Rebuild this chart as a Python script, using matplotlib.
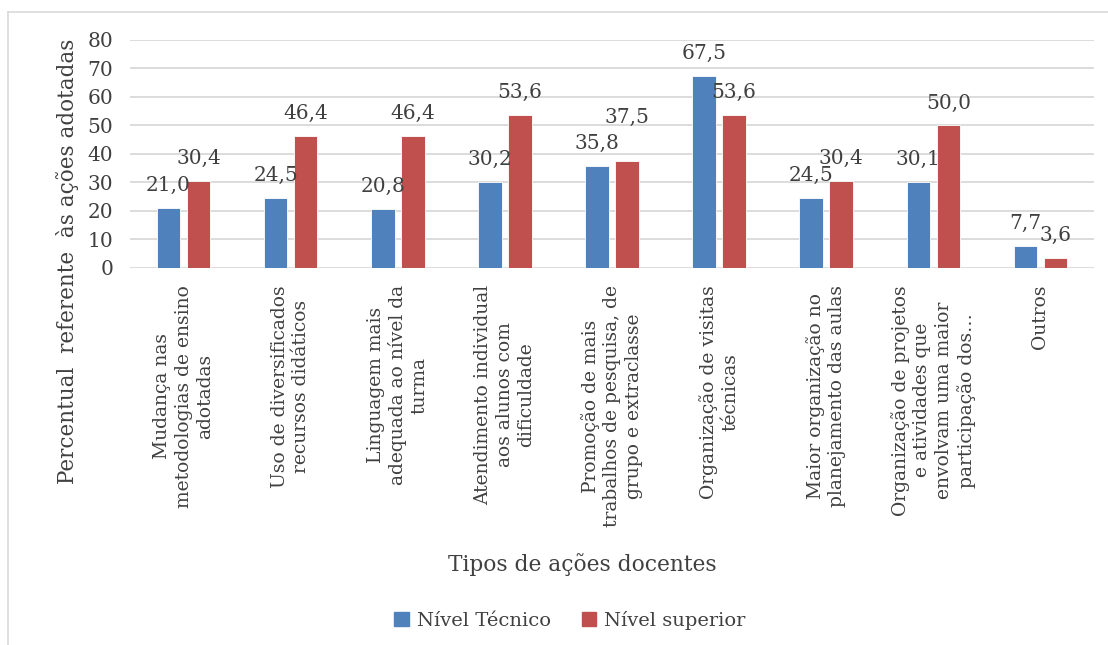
import matplotlib
matplotlib.use("Agg")
import matplotlib.pyplot as plt
import numpy as np
from matplotlib.lines import Line2D
from matplotlib.patches import Patch

categorias = [
    "Mudança nas\nmetodologias de ensino\nadotadas",
    "Uso de diversificados\nrecursos didáticos",
    "Linguagem mais\nadequada ao nível da\nturma",
    "Atendimento individual\naos alunos com\ndificuldade",
    "Promoção de mais\ntrabalhos de pesquisa, de\ngrupo e extraclasse",
    "Organização de visitas\ntécnicas",
    "Maior organização no\nplanejamento das aulas",
    "Organização de projetos\ne atividades que\nenvolvam uma maior\nparticipação dos…",
    "Outros",
]
nivel_tecnico = [21.0, 24.5, 20.8, 30.2, 35.8, 67.5, 24.5, 30.1, 7.7]
nivel_superior = [30.4, 46.4, 46.4, 53.6, 37.5, 53.6, 30.4, 50.0, 3.6]
y_ticks = [0, 10, 20, 30, 40, 50, 60, 70, 80]

AZUL = "#4F81BD"
VERMELHO = "#C0504D"
TEXTO = "#404040"
GRADE = "#D9D9D9"

plt.rcParams["font.family"] = ["DejaVu Serif"]

W, H = 1108, 645
fig = plt.figure(figsize=(W / 100, H / 100), dpi=100)

# moldura do gráfico (bordas esquerda e superior)
fig.add_artist(Line2D([8 / W, 8 / W], [0, 1 - 12 / H], transform=fig.transFigure,
                      color=GRADE, linewidth=1.2))
fig.add_artist(Line2D([8 / W, 1], [1 - 12 / H, 1 - 12 / H], transform=fig.transFigure,
                      color=GRADE, linewidth=1.2))

ax = fig.add_axes([130 / W, 1 - 268 / H, (1094 - 130) / W, (268 - 40) / H])
x = np.arange(len(categorias))
largura = 0.22
desloc = 0.14
b1 = ax.bar(x - desloc, nivel_tecnico, largura, color=AZUL, edgecolor="white",
            linewidth=0.6, zorder=3, label="Nível Técnico")
b2 = ax.bar(x + desloc, nivel_superior, largura, color=VERMELHO, edgecolor="white",
            linewidth=0.6, zorder=3, label="Nível superior")

ax.set_xlim(-0.5, len(categorias) - 0.5)
ax.set_ylim(0, 80)
ax.set_yticks(y_ticks)
ax.yaxis.grid(True, color=GRADE, linewidth=1.3, zorder=0)
ax.set_axisbelow(True)
for s in ax.spines.values():
    s.set_visible(False)
ax.tick_params(axis="y", length=0, pad=12, labelsize=14.5, labelcolor=TEXTO)
ax.set_xticks([])

fmt = lambda v: f"{v:.1f}".replace(".", ",")
# rótulo da série superior na categoria 4 sobe para não colidir com o vizinho
elevar = {(1, 4): 21}
for s, (barras, vals) in enumerate(((b1, nivel_tecnico), (b2, nivel_superior))):
    for i, (b, v) in enumerate(zip(barras, vals)):
        ax.annotate(fmt(v), (b.get_x() + b.get_width() / 2, v),
                    xytext=(0, 17 + elevar.get((s, i), 0)), textcoords="offset pixels",
                    ha="center", va="baseline", fontsize=14.5, color=TEXTO, zorder=4)

for i, rot in enumerate(categorias):
    ax.text(i, -17 / 228, rot, transform=ax.get_xaxis_transform(),
            rotation=90, ha="center", va="top", multialignment="center",
            fontsize=13.5, color=TEXTO, linespacing=1.25)

fig.text(68 / W, 1 - 261 / H, "Percentual  referente  às ações adotadas",
         rotation=90, ha="center", va="center", fontsize=15.5, color=TEXTO)
fig.text(582 / W, 1 - 565 / H, "Tipos de ações docentes",
         ha="center", va="center", fontsize=15.7, color=TEXTO)

fig.legend(handles=[Patch(color=AZUL, label="Nível Técnico"),
                    Patch(color=VERMELHO, label="Nível superior")],
           loc="center", bbox_to_anchor=(570 / W, 1 - 620 / H), ncol=2,
           frameon=False, fontsize=14, labelcolor=TEXTO,
           handlelength=0.75, handleheight=0.75, handletextpad=0.4,
           columnspacing=1.6)

fig.savefig("out.png", dpi=100, facecolor="white")
